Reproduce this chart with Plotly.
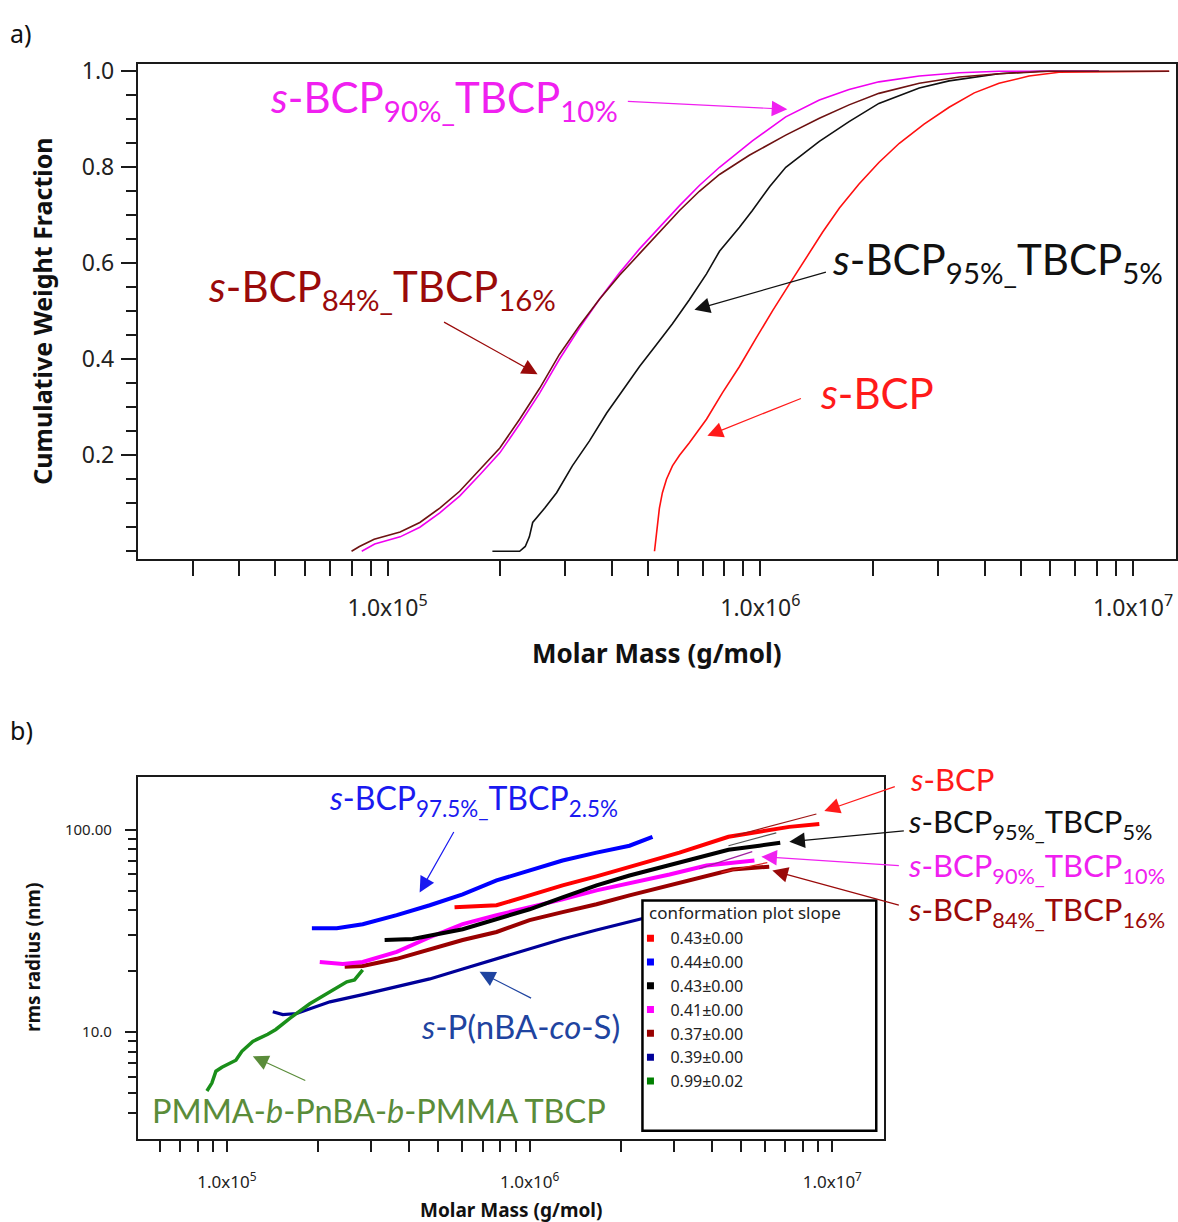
import plotly.graph_objects as go

W_PX, H_PX = 1178, 1222


def px(x):
    return x / W_PX


def py(y):
    return 1 - y / H_PX


# ---------------- Panel a: cumulative weight fraction ----------------
brown_a_M = [8.0e4, 8.4e4, 9.2e4, 1.08e5, 1.22e5, 1.38e5, 1.56e5, 1.77e5, 2.0e5, 2.26e5,
             2.56e5, 2.89e5, 3.27e5, 3.70e5, 4.19e5, 4.74e5, 5.36e5, 6.07e5, 6.86e5, 7.77e5,
             9.34e5, 1.17e6, 1.44e6, 1.73e6, 2.08e6, 2.67e6, 3.42e6, 4.37e6, 5.96e6, 1.25e7]
brown_a_W = [0.0, 0.01, 0.025, 0.04, 0.06, 0.09, 0.125, 0.17, 0.215, 0.275,
             0.34, 0.41, 0.47, 0.525, 0.575, 0.62, 0.665, 0.71, 0.75, 0.785,
             0.825, 0.867, 0.902, 0.93, 0.954, 0.975, 0.988, 0.995, 1.0, 1.0]

magenta_a_M = [8.52e4, 9.23e4, 1.08e5, 1.22e5, 1.38e5, 1.56e5, 1.77e5, 2.0e5, 2.26e5, 2.56e5,
               2.89e5, 3.27e5, 3.70e5, 4.19e5, 4.74e5, 5.36e5, 6.07e5, 6.86e5, 7.77e5, 9.52e5,
               1.17e6, 1.44e6, 1.73e6, 2.08e6, 2.67e6, 3.42e6, 4.37e6, 8.1e6]
magenta_a_W = [0.0, 0.015, 0.03, 0.05, 0.08, 0.115, 0.16, 0.205, 0.265, 0.33,
               0.40, 0.465, 0.525, 0.58, 0.63, 0.675, 0.72, 0.762, 0.80, 0.855,
               0.905, 0.94, 0.962, 0.978, 0.99, 0.997, 1.0, 1.0]

black_a_M = [1.91e5, 2.26e5, 2.34e5, 2.40e5, 2.45e5, 2.64e5, 2.84e5, 3.13e5, 3.48e5, 3.87e5,
             4.27e5, 4.74e5, 5.26e5, 5.81e5, 6.45e5, 7.17e5, 7.77e5, 8.79e5, 9.52e5, 1.06e6,
             1.17e6, 1.44e6, 1.73e6, 2.08e6, 2.67e6, 3.21e6, 4.37e6, 5.60e6, 8.1e6]
black_a_W = [0.0, 0.0, 0.01, 0.03, 0.06, 0.09, 0.122, 0.178, 0.23, 0.288,
             0.335, 0.385, 0.43, 0.474, 0.524, 0.578, 0.625, 0.675, 0.71, 0.76,
             0.80, 0.854, 0.895, 0.933, 0.965, 0.98, 0.995, 1.0, 1.0]

red_a_M = [5.20e5, 5.26e5, 5.36e5, 5.46e5, 5.60e5, 5.81e5, 6.07e5, 6.45e5, 7.17e5, 7.91e5,
           8.79e5, 9.76e5, 1.08e6, 1.20e6, 1.33e6, 1.47e6, 1.63e6, 1.84e6, 2.08e6, 2.36e6,
           2.75e6, 3.21e6, 3.75e6, 4.37e6, 5.26e6, 6.33e6, 1.25e7]
red_a_W = [0.0, 0.04, 0.09, 0.122, 0.15, 0.178, 0.2, 0.226, 0.275, 0.33,
           0.385, 0.445, 0.502, 0.558, 0.612, 0.665, 0.715, 0.765, 0.81, 0.85,
           0.89, 0.925, 0.955, 0.975, 0.99, 0.998, 1.0]

# ---------------- Panel b: conformation plot ----------------
red_b_M = [5.65e5, 7.78e5, 1.0e6, 1.285e6, 1.664e6, 2.138e6, 3.126e6, 4.54e6, 5.74e6, 7.21e6, 9.06e6]
red_b_R = [41.3, 42.3, 47.3, 53.0, 58.7, 65.6, 76.9, 92.1, 97.4, 103.1, 106.6]
red_fit_M = [4.75e6, 8.86e6]
red_fit_R = [93.1, 119.4]

blue_b_M = [1.909e5, 2.307e5, 2.81e5, 3.64e5, 4.68e5, 6.01e5, 7.78e5, 1.0e6, 1.285e6, 1.664e6, 2.138e6, 2.547e6]
blue_b_R = [32.6, 32.6, 34.1, 37.8, 42.3, 47.9, 56.1, 62.8, 70.3, 76.9, 83.2, 92.1]

black_b_M = [3.32e5, 4.11e5, 6.01e5, 7.78e5, 1.0e6, 1.285e6, 1.664e6, 2.138e6, 3.126e6, 4.54e6, 5.74e6, 6.73e6]
black_b_R = [28.5, 28.8, 32.2, 36.1, 40.4, 46.2, 53.0, 59.3, 68.7, 79.5, 83.2, 86.1]
black_fit_M = [4.54e6, 6.53e6]
black_fit_R = [83.2, 96.3]

magenta_b_M = [2.027e5, 2.415e5, 2.81e5, 3.64e5, 4.68e5, 6.01e5, 7.78e5, 1.0e6, 1.285e6, 1.664e6,
               2.138e6, 2.90e6, 3.84e6, 5.53e6]
magenta_b_R = [22.2, 21.7, 22.2, 24.9, 29.4, 34.1, 37.8, 41.3, 45.2, 50.1,
               54.2, 60.0, 66.4, 70.3]
magenta_fit_M = [3.64e6, 5.44e6]
magenta_fit_R = [64.1, 77.8]

brown_b_M = [2.45e5, 2.81e5, 3.64e5, 4.68e5, 6.01e5, 7.78e5, 1.0e6, 1.285e6, 1.664e6, 2.138e6,
             3.126e6, 4.68e6, 6.19e6]
brown_b_R = [21.0, 21.2, 23.0, 25.7, 28.5, 31.2, 35.7, 39.1, 42.8, 47.3,
             54.8, 63.5, 65.6]
brown_fit_M = [4.30e6, 6.10e6]
brown_fit_R = [61.4, 68.7]

navy_b_M = [1.418e5, 1.53e5, 1.70e5, 2.19e5, 2.81e5, 3.64e5, 4.68e5, 6.01e5, 7.78e5, 1.0e6,
            1.285e6, 1.664e6, 2.138e6, 2.69e6]
navy_b_R = [12.6, 12.2, 12.35, 14.1, 15.3, 16.8, 18.3, 20.5, 23.0, 25.7,
            28.8, 31.9, 34.9, 38.2]

green_b_M = [8.59e4, 8.92e4, 9.2e4, 9.63e4, 1.071e5, 1.121e5, 1.218e5, 1.365e5, 1.451e5, 1.614e5,
             1.879e5, 2.19e5, 2.49e5, 2.64e5, 2.81e5]
green_b_R = [5.12, 5.6, 6.41, 6.71, 7.26, 8.04, 9.0, 9.75, 10.3, 11.7,
             13.8, 15.8, 17.7, 18.1, 20.3]

legend_title = "conformation plot slope"
slope_labels = ["0.43±0.00", "0.44±0.00", "0.43±0.00", "0.41±0.00", "0.37±0.00", "0.39±0.00", "0.99±0.02"]
slope_colors = ["#FF0000", "#0000FF", "#000000", "#FF00FF", "#990000", "#000099", "#008000"]

# tick definitions
a_x_major = [1e5, 1e6, 1e7]
a_x_major_text = ["1.0x10<sup>5</sup>", "1.0x10<sup>6</sup>", "1.0x10<sup>7</sup>"]
a_x_minor = [3e4, 4e4, 5e4, 6e4, 7e4, 8e4, 9e4, 2e5, 3e5, 4e5, 5e5, 6e5, 7e5, 8e5, 9e5,
             2e6, 3e6, 4e6, 5e6, 6e6, 7e6, 8e6, 9e6]
a_y_major = [0.2, 0.4, 0.6, 0.8, 1.0]
a_y_major_text = ["0.2", "0.4", "0.6", "0.8", "1.0"]
a_y_minor = [0.0, 0.05, 0.1, 0.15, 0.25, 0.3, 0.35, 0.45, 0.5, 0.55, 0.65, 0.7, 0.75, 0.85, 0.9, 0.95]

b_x_major = [1e5, 1e6, 1e7]
b_x_major_text = ["1.0x10<sup>5</sup>", "1.0x10<sup>6</sup>", "1.0x10<sup>7</sup>"]
b_x_minor = [6e4, 7e4, 8e4, 9e4, 2e5, 3e5, 4e5, 5e5, 6e5, 7e5, 8e5, 9e5,
             2e6, 3e6, 4e6, 5e6, 6e6, 7e6, 8e6, 9e6]
b_y_major = [10, 100]
b_y_major_text = ["10.0", "100.00"]
b_y_minor = [4, 5, 6, 7, 8, 9, 20, 30, 40, 50, 60, 70, 80, 90]

fig = go.Figure()


def line_a(M, W, color, width=1.6):
    fig.add_trace(go.Scatter(x=M, y=W, mode="lines", line=dict(color=color, width=width),
                             xaxis="x", yaxis="y", showlegend=False, hoverinfo="skip"))


line_a(red_a_M, red_a_W, "#FF1010")
line_a(black_a_M, black_a_W, "#111111")
line_a(magenta_a_M, magenta_a_W, "#F000F0")
line_a(brown_a_M, brown_a_W, "#6E1212")


def line_b(M, R, color, width=4.0):
    fig.add_trace(go.Scatter(x=M, y=R, mode="lines", line=dict(color=color, width=width),
                             xaxis="x2", yaxis="y2", showlegend=False, hoverinfo="skip"))


line_b(navy_b_M, navy_b_R, "#000099", 3.2)
line_b(green_b_M, green_b_R, "#1A8F1A", 3.5)
line_b(brown_b_M, brown_b_R, "#990000")
line_b(magenta_b_M, magenta_b_R, "#FF00FF")
line_b(black_b_M, black_b_R, "#000000")
line_b(red_b_M, red_b_R, "#FF0000")
line_b(blue_b_M, blue_b_R, "#0000FF")
line_b(red_fit_M, red_fit_R, "#A01515", 1.2)
line_b(black_fit_M, black_fit_R, "#555555", 1.2)
line_b(magenta_fit_M, magenta_fit_R, "#A020A0", 1.2)
line_b(brown_fit_M, brown_fit_R, "#E02020", 1.2)

for lab, col in zip(slope_labels, slope_colors):
    fig.add_trace(go.Scatter(x=[None], y=[None], mode="markers", name=lab,
                             marker=dict(symbol="square", size=7, color=col),
                             xaxis="x2", yaxis="y2"))

AX_COL = "#1a1a1a"
tickfont_a = dict(family="Noto Sans", size=23, color="#222")
tickfont_b = dict(family="Noto Sans", size=17, color="#222")

fig.update_layout(
    width=W_PX, height=H_PX,
    margin=dict(l=0, r=0, t=0, b=0),
    paper_bgcolor="white", plot_bgcolor="white",
    xaxis=dict(type="log", domain=[px(138), px(1177)], range=[4.3298, 7.1153], anchor="y",
               showline=True, linewidth=2, linecolor=AX_COL, mirror=True,
               showgrid=False, zeroline=False,
               tickmode="array", tickvals=a_x_major, ticktext=a_x_major_text,
               ticks="outside", ticklen=15, tickwidth=1.5, tickcolor=AX_COL,
               tickfont=tickfont_a, ticklabelstandoff=12,
               minor=dict(tickmode="array", tickvals=a_x_minor, ticks="outside",
                          ticklen=15, tickwidth=1.5, tickcolor=AX_COL, showgrid=False)),
    yaxis=dict(domain=[py(554), py(55)], range=[-0.016, 1.016], anchor="x",
               showline=True, linewidth=2, linecolor=AX_COL, mirror=True,
               showgrid=False, zeroline=False,
               tickmode="array", tickvals=a_y_major, ticktext=a_y_major_text,
               ticks="outside", ticklen=15, tickwidth=1.5, tickcolor=AX_COL,
               tickfont=tickfont_a, ticklabelstandoff=2,
               minor=dict(tickmode="array", tickvals=a_y_minor, ticks="outside",
                          ticklen=10, tickwidth=1.5, tickcolor=AX_COL, showgrid=False)),
    xaxis2=dict(type="log", domain=[px(138), px(885)], range=[4.706, 7.1716], anchor="y2",
                showline=True, linewidth=2, linecolor=AX_COL, mirror=True,
                showgrid=False, zeroline=False,
                tickmode="array", tickvals=b_x_major, ticktext=b_x_major_text,
                ticks="outside", ticklen=11, tickwidth=1.5, tickcolor=AX_COL,
                tickfont=tickfont_b, ticklabelstandoff=16,
                minor=dict(tickmode="array", tickvals=b_x_minor, ticks="outside",
                           ticklen=11, tickwidth=1.5, tickcolor=AX_COL, showgrid=False)),
    yaxis2=dict(type="log", domain=[py(1138), py(774)], range=[0.474, 2.258], anchor="x2",
                showline=True, linewidth=2, linecolor=AX_COL, mirror=True,
                showgrid=False, zeroline=False,
                tickmode="array", tickvals=b_y_major, ticktext=b_y_major_text,
                ticks="outside", ticklen=11, tickwidth=1.5, tickcolor=AX_COL,
                tickfont=dict(family="Noto Sans", size=15, color="#222"), ticklabelstandoff=10,
                minor=dict(tickmode="array", tickvals=b_y_minor, ticks="outside",
                           ticklen=8, tickwidth=1.5, tickcolor=AX_COL, showgrid=False)),
    legend=dict(x=px(631), y=py(919), xanchor="left", yanchor="top",
                bgcolor="rgba(0,0,0,0)", borderwidth=0, itemwidth=30,
                font=dict(family="Noto Sans", size=16, color="#222")),
    showlegend=True,
)

# legend frame
fig.add_shape(type="rect", xref="paper", yref="paper",
              x0=px(643), x1=px(877), y0=py(1130), y1=py(898),
              line=dict(color="black", width=2.5), fillcolor="white", layer="above")

ann = []
LBL = "Lato"


def text(x, y, s, color, size, family=LBL, bold=False, angle=0, xanchor="left"):
    if bold:
        s = "<b>" + s + "</b>"
    ann.append(dict(x=px(x), y=py(y), xref="paper", yref="paper", text=s, showarrow=False,
                    xanchor=xanchor, yanchor="middle", textangle=angle,
                    font=dict(family=family, size=size, color=color)))


def arrow(x0, y0, x1, y1, color, width=1.2, size=2.6):
    ann.append(dict(x=px(x1), y=py(y1), xref="paper", yref="paper", text="",
                    showarrow=True, axref="pixel", ayref="pixel", ax=x0 - x1, ay=y0 - y1,
                    arrowhead=2, arrowsize=size, arrowwidth=width, arrowcolor=color, standoff=0))


# legend title
text(648, 910, legend_title, "#222", 17, family="Noto Sans")

# panel letters and axis titles
text(8, 24, "a)", "#111", 25, family="Noto Sans")
text(8, 726, "b)", "#111", 25, family="Noto Sans")
text(42, 304, "Cumulative Weight Fraction", "#111", 25, family="Noto Sans", bold=True, angle=-90, xanchor="center")
text(658, 649, "Molar Mass (g/mol)", "#111", 26, family="Noto Sans", bold=True, xanchor="center")
text(33, 955, "rms radius (nm)", "#111", 19, family="Noto Sans", bold=True, angle=-90, xanchor="center")
text(511, 1210, "Molar Mass (g/mol)", "#111", 19, family="Noto Sans", bold=True, xanchor="center")

# panel a labels
text(268, 92, "<i>s</i>-BCP<sub>90%_</sub>TBCP<sub>10%</sub>", "#F020F0", 42)
arrow(627, 93, 788, 101, "#F020F0")
text(206, 282, "<i>s</i>-BCP<sub>84%_</sub>TBCP<sub>16%</sub>", "#9A0A0A", 42)
arrow(443, 315, 538, 368, "#9A0A0A")
text(831, 255, "<i>s</i>-BCP<sub>95%_</sub>TBCP<sub>5%</sub>", "#111111", 42)
arrow(828, 265, 695, 303, "#111111")
text(819, 387, "<i>s</i>-BCP", "#FF1A1A", 42)
arrow(803, 392, 708, 430, "#FF1A1A")

# panel b labels
text(327, 797, "<i>s</i>-BCP<sub>97.5%_</sub>TBCP<sub>2.5%</sub>", "#1A1AF0", 32)
arrow(455, 828, 420, 890, "#1A1AF0")
text(419, 1025, "<i>s</i>-P(nBA-<i>co</i>-S)", "#1F44A0", 33)
arrow(533, 997, 480, 970, "#1F44A0")
text(150, 1110, "PMMA-<i>b</i>-PnBA-<i>b</i>-PMMA TBCP", "#5A8C3A", 32.5)
arrow(307, 1080, 253, 1055, "#5A8C3A")
text(909, 776, "<i>s</i>-BCP", "#FF1A1A", 31)
arrow(897, 783, 825, 808, "#FF1A1A")
text(907, 821, "<i>s</i>-BCP<sub>95%_</sub>TBCP<sub>5%</sub>", "#111111", 31)
arrow(906, 828, 790, 839, "#111111")
text(907, 865, "<i>s</i>-BCP<sub>90%_</sub>TBCP<sub>10%</sub>", "#F020F0", 31)
arrow(901, 863, 762, 854, "#F020F0")
text(907, 909, "<i>s</i>-BCP<sub>84%_</sub>TBCP<sub>16%</sub>", "#9A0A0A", 31)
arrow(901, 903, 773, 868, "#9A0A0A")

fig.update_layout(annotations=ann)

fig.write_html("out.html", config={"displayModeBar": False},
               post_script="document.body.style.margin='0px';")
